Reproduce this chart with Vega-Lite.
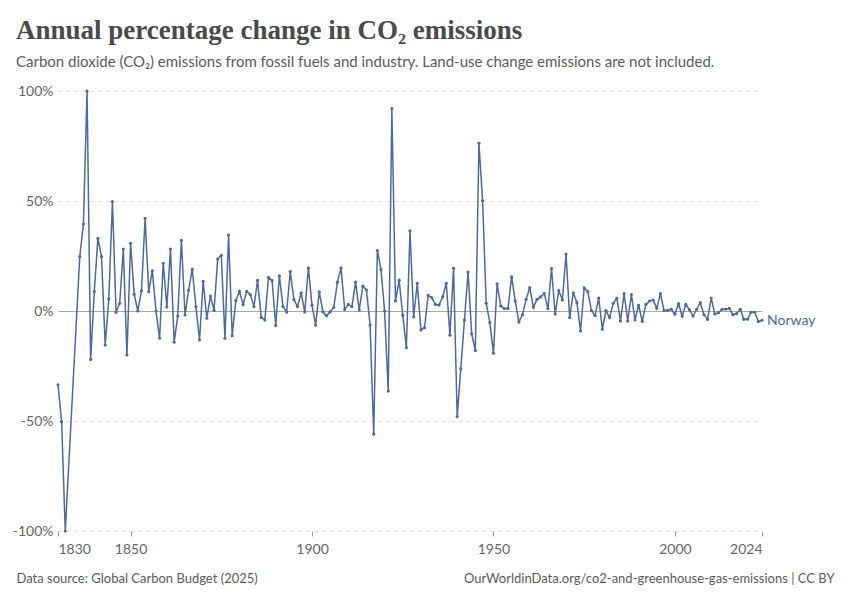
{
  "$schema": "https://vega.github.io/schema/vega-lite/v6.json",
  "autosize": {"type": "none"},
  "width": 704,
  "height": 440,
  "padding": {"left": 58, "top": 91, "right": 88, "bottom": 69},
  "background": "white",
  "config": {
    "view": {"stroke": null},
    "font": "Lato",
    "axis": {"labelFont": "Lato", "titleFont": "Lato"}
  },
  "title": {
    "text": "Annual percentage change in CO₂ emissions",
    "subtitle": "Carbon dioxide (CO₂) emissions from fossil fuels and industry. Land-use change emissions are not included.",
    "anchor": "start",
    "frame": "group",
    "dx": -42,
    "font": "Liberation Serif",
    "fontSize": 27,
    "fontWeight": "bold",
    "color": "#4a4a4a",
    "subtitleFont": "Lato",
    "subtitleFontSize": 15,
    "subtitleColor": "#5b5b5b",
    "subtitlePadding": 10,
    "offset": 13
  },
  "data": {
    "values": [
      {"year": 1830, "change": -33.6}, {"year": 1831, "change": -50.3}, {"year": 1832, "change": -100},
      {"year": 1836, "change": 24.7}, {"year": 1837, "change": 39.5}, {"year": 1838, "change": 100},
      {"year": 1839, "change": -22}, {"year": 1840, "change": 8.8}, {"year": 1841, "change": 33},
      {"year": 1842, "change": 24.7}, {"year": 1843, "change": -15.5}, {"year": 1844, "change": 5.5},
      {"year": 1845, "change": 49.7}, {"year": 1846, "change": -0.6}, {"year": 1847, "change": 3.5},
      {"year": 1848, "change": 28.2}, {"year": 1849, "change": -20}, {"year": 1850, "change": 30.8},
      {"year": 1851, "change": 7.6}, {"year": 1852, "change": 0}, {"year": 1853, "change": 9.2},
      {"year": 1854, "change": 42.1}, {"year": 1855, "change": 8.8}, {"year": 1856, "change": 18.3},
      {"year": 1857, "change": 0}, {"year": 1858, "change": -12.4}, {"year": 1859, "change": 21.7},
      {"year": 1860, "change": 1.8}, {"year": 1861, "change": 28.2}, {"year": 1862, "change": -14.2},
      {"year": 1863, "change": -2.3}, {"year": 1864, "change": 32.1}, {"year": 1865, "change": -1.8},
      {"year": 1866, "change": 9.5}, {"year": 1867, "change": 18.9}, {"year": 1868, "change": 2},
      {"year": 1869, "change": -13.2}, {"year": 1870, "change": 13.5}, {"year": 1871, "change": -3.3},
      {"year": 1872, "change": 6.8}, {"year": 1873, "change": 0.3}, {"year": 1874, "change": 23.6},
      {"year": 1875, "change": 25.3}, {"year": 1876, "change": -12.4}, {"year": 1877, "change": 34.5},
      {"year": 1878, "change": -11.2}, {"year": 1879, "change": 4.7}, {"year": 1880, "change": 8.9},
      {"year": 1881, "change": 3}, {"year": 1882, "change": 8.9}, {"year": 1883, "change": 7.4},
      {"year": 1884, "change": 2}, {"year": 1885, "change": 13.9}, {"year": 1886, "change": -2.9},
      {"year": 1887, "change": -4.1}, {"year": 1888, "change": 15.3}, {"year": 1889, "change": 13.8},
      {"year": 1890, "change": -6.6}, {"year": 1891, "change": 16}, {"year": 1892, "change": 2},
      {"year": 1893, "change": -0.4}, {"year": 1894, "change": 17.9}, {"year": 1895, "change": 5.2},
      {"year": 1896, "change": 2}, {"year": 1897, "change": 8.3}, {"year": 1898, "change": -0.4},
      {"year": 1899, "change": 19.6}, {"year": 1900, "change": 2.6}, {"year": 1901, "change": -6.4},
      {"year": 1902, "change": 8.7}, {"year": 1903, "change": -0.4}, {"year": 1904, "change": -2.2},
      {"year": 1905, "change": -0.4}, {"year": 1906, "change": 1.7}, {"year": 1907, "change": 13.1},
      {"year": 1908, "change": 19.6}, {"year": 1909, "change": 0.7}, {"year": 1910, "change": 3},
      {"year": 1911, "change": 2}, {"year": 1912, "change": 13.1}, {"year": 1913, "change": 0.4},
      {"year": 1914, "change": 11.3}, {"year": 1915, "change": 9.5}, {"year": 1916, "change": -6.4},
      {"year": 1917, "change": -56}, {"year": 1918, "change": 27.5}, {"year": 1919, "change": 18.9},
      {"year": 1920, "change": 0}, {"year": 1921, "change": -36.4}, {"year": 1922, "change": 92},
      {"year": 1923, "change": 4.6}, {"year": 1924, "change": 14}, {"year": 1925, "change": -2},
      {"year": 1926, "change": -16.7}, {"year": 1927, "change": 36.4}, {"year": 1928, "change": -2.7},
      {"year": 1929, "change": 12.6}, {"year": 1930, "change": -8.6}, {"year": 1931, "change": -7.6},
      {"year": 1932, "change": 7.1}, {"year": 1933, "change": 6.1}, {"year": 1934, "change": 3},
      {"year": 1935, "change": 2.7}, {"year": 1936, "change": 6.5}, {"year": 1937, "change": 12.6},
      {"year": 1938, "change": -11}, {"year": 1939, "change": 19.4}, {"year": 1940, "change": -48},
      {"year": 1941, "change": -26.2}, {"year": 1942, "change": -4.1}, {"year": 1943, "change": 17.7},
      {"year": 1944, "change": -10.4}, {"year": 1945, "change": -17.9}, {"year": 1946, "change": 76.2},
      {"year": 1947, "change": 50.2}, {"year": 1948, "change": 3.5}, {"year": 1949, "change": -5.3},
      {"year": 1950, "change": -19.2}, {"year": 1951, "change": 12.4}, {"year": 1952, "change": 2.3},
      {"year": 1953, "change": 1.1}, {"year": 1954, "change": 1.1}, {"year": 1955, "change": 15.5},
      {"year": 1956, "change": 4.5}, {"year": 1957, "change": -5}, {"year": 1958, "change": -1.7},
      {"year": 1959, "change": 5.3}, {"year": 1960, "change": 10.6}, {"year": 1961, "change": 1.7},
      {"year": 1962, "change": 5.3}, {"year": 1963, "change": 6.4}, {"year": 1964, "change": 8},
      {"year": 1965, "change": 1.1}, {"year": 1966, "change": 19.3}, {"year": 1967, "change": -1.4},
      {"year": 1968, "change": 9.3}, {"year": 1969, "change": 5}, {"year": 1970, "change": 25.9},
      {"year": 1971, "change": -3}, {"year": 1972, "change": 8.3}, {"year": 1973, "change": 3.8},
      {"year": 1974, "change": -9.1}, {"year": 1975, "change": 10.5}, {"year": 1976, "change": 8.8},
      {"year": 1977, "change": 0.2}, {"year": 1978, "change": -2.1}, {"year": 1979, "change": 5.9},
      {"year": 1980, "change": -8.3}, {"year": 1981, "change": 0.2}, {"year": 1982, "change": -3},
      {"year": 1983, "change": 3.5}, {"year": 1984, "change": 5.8}, {"year": 1985, "change": -4.5},
      {"year": 1986, "change": 7.9}, {"year": 1987, "change": -4.6}, {"year": 1988, "change": 7.5},
      {"year": 1989, "change": -4.1}, {"year": 1990, "change": 2.6}, {"year": 1991, "change": -4.7},
      {"year": 1992, "change": 3}, {"year": 1993, "change": 4.5}, {"year": 1994, "change": 5},
      {"year": 1995, "change": 1.2}, {"year": 1996, "change": 7.9}, {"year": 1997, "change": 0.2},
      {"year": 1998, "change": 0.3}, {"year": 1999, "change": 0.8}, {"year": 2000, "change": -1.4},
      {"year": 2001, "change": 3.3}, {"year": 2002, "change": -2.3}, {"year": 2003, "change": 3},
      {"year": 2004, "change": 0.6}, {"year": 2005, "change": -2.3}, {"year": 2006, "change": 0.8},
      {"year": 2007, "change": 3.8}, {"year": 2008, "change": -1.7}, {"year": 2009, "change": -3.8},
      {"year": 2010, "change": 5.9}, {"year": 2011, "change": -1.4}, {"year": 2012, "change": -0.8},
      {"year": 2013, "change": 0.8}, {"year": 2014, "change": 0.8}, {"year": 2015, "change": 1.2},
      {"year": 2016, "change": -1.7}, {"year": 2017, "change": -1.2}, {"year": 2018, "change": 0.8},
      {"year": 2019, "change": -3.8}, {"year": 2020, "change": -3.8}, {"year": 2021, "change": -0.6},
      {"year": 2022, "change": -0.6}, {"year": 2023, "change": -4.8}, {"year": 2024, "change": -4.2}
    ]
  },
  "encoding": {
    "x": {
      "field": "year",
      "type": "quantitative",
      "scale": {"domain": [1830, 2024], "nice": false, "zero": false},
      "axis": {
        "values": [1830, 1850, 1900, 1950, 2000, 2024],
        "format": "d",
        "labelFlush": true,
        "labelFontSize": 14,
        "labelColor": "#666666",
        "labelPadding": 6,
        "tickColor": "#999999",
        "tickSize": 5,
        "domain": false,
        "grid": false,
        "title": "Data source: Global Carbon Budget (2025)",
        "titleX": -42,
        "titleY": 51,
        "titleAlign": "left",
        "titleBaseline": "alphabetic",
        "titleFontSize": 13,
        "titleFontWeight": "normal",
        "titleColor": "#5b5b5b"
      }
    },
    "y": {
      "field": "change",
      "type": "quantitative",
      "scale": {"domain": [-100, 100], "nice": false},
      "axis": {
        "values": [-100, -50, 0, 50, 100],
        "labelExpr": "datum.value + '%'",
        "labelFontSize": 14,
        "labelColor": "#666666",
        "labelPadding": 5,
        "ticks": false,
        "domain": false,
        "grid": true,
        "gridColor": {"condition": {"test": "datum.value === 0", "value": "#a8a8a8"}, "value": "#dddddd"},
        "gridDash": {"condition": {"test": "datum.value === 0", "value": []}, "value": [4, 4]},
        "gridWidth": 1,
        "title": "OurWorldinData.org/co2-and-greenhouse-gas-emissions | CC BY",
        "titleAngle": 0,
        "titleX": 776,
        "titleY": 491,
        "titleAlign": "right",
        "titleBaseline": "alphabetic",
        "titleFontSize": 13,
        "titleFontWeight": "normal",
        "titleColor": "#5b5b5b"
      }
    }
  },
  "layer": [
    {
      "mark": {"type": "line", "color": "#4c6a9c", "strokeWidth": 1.5, "point": {"filled": true, "size": 10, "color": "#4c6a9c"}}
    },
    {
      "transform": [{"filter": "datum.year === 2024"}],
      "mark": {"type": "text", "align": "left", "baseline": "middle", "dx": 5, "dy": 1, "fontSize": 14, "font": "Lato", "color": "#4c6a9c"},
      "encoding": {"text": {"value": "Norway"}}
    }
  ]
}
